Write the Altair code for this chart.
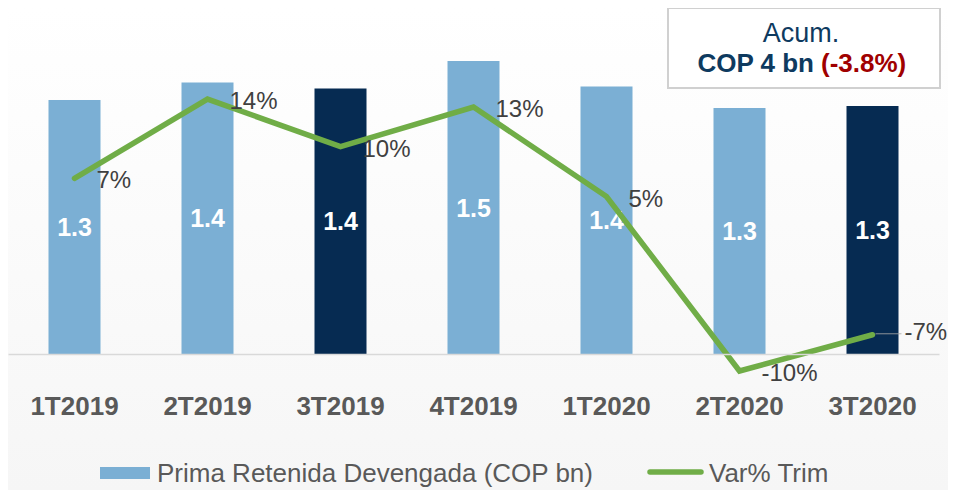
import altair as alt
import pandas as pd

categories = ["1T2019", "2T2019", "3T2019", "4T2019", "1T2020", "2T2020", "3T2020"]
prima = [1.30, 1.39, 1.36, 1.50, 1.37, 1.26, 1.27]
var_trim = [7.0, 14.0, 9.8, 13.3, 5.4, -10.0, -6.8]
tipo = ["base", "base", "cierre", "base", "base", "base", "cierre"]

legend_bar = "Prima Retenida Devengada (COP bn)"
legend_line = "Var% Trim"
box_title = "Acum."
box_value = "COP 4 bn"
box_change = "(-3.8%)"

FONT = "Liberation Sans"
LIGHT = "#7BAFD4"
DARK = "#062B52"
GREEN = "#70AD47"
NAVY = "#0E3A5F"
RED = "#A00000"

df = pd.DataFrame({"cat": categories, "prima": prima, "var": var_trim, "tipo": tipo})
one = pd.DataFrame({"k": [0]})

W, H = 931, 346

xenc = alt.X(
    "cat:N",
    sort=categories,
    scale=alt.Scale(paddingInner=0.609, paddingOuter=0.3045),
    axis=alt.Axis(
        title=None, labelAngle=0, ticks=False, tickSize=0, grid=False,
        domain=True, domainColor="#d9d9d9", domainWidth=1.5, zindex=1,
        labelFont=FONT, labelFontSize=26, labelFontWeight="bold",
        labelColor="#595959", labelPadding=52, labelBaseline="middle",
    ),
)
ybar = alt.Scale(domain=[0, 1.7717], nice=False, zero=False)
yline = alt.Scale(domain=[-8.5, 22.04], nice=False, zero=False)

pct_expr = "(datum.var < 0 ? '-' : '') + format(abs(datum.var), '.0f') + '%'"

base = alt.Chart(df)

bg = alt.Chart(one).mark_rect(
    fill=alt.Gradient(
        gradient="linear",
        stops=[alt.GradientStop(color="#ffffff", offset=0),
               alt.GradientStop(color="#f6f6f6", offset=1)],
        x1=0, x2=0, y1=0, y2=1,
    )
).encode(x=alt.value(0), x2=alt.value(940), y=alt.value(0), y2=alt.value(482))

bars = base.mark_bar().encode(
    x=xenc,
    y=alt.Y("prima:Q", scale=ybar, axis=None),
    color=alt.Color("tipo:N", scale=alt.Scale(domain=["base", "cierre"], range=[LIGHT, DARK]), legend=None),
)

bar_labels = base.transform_calculate(
    mid="datum.prima / 2", lab="format(datum.prima, '.1f')"
).mark_text(
    font=FONT, fontSize=25, fontWeight="bold", color="white", baseline="middle", dy=1
).encode(
    x=alt.X("cat:N", sort=categories),
    y=alt.Y("mid:Q", scale=ybar, axis=None),
    text="lab:N",
)

line = base.mark_line(color=GREEN, strokeWidth=5.5, strokeCap="round").encode(
    x=alt.X("cat:N", sort=categories),
    y=alt.Y("var:Q", scale=yline, axis=None),
)

line_labels = base.transform_filter(
    alt.datum.cat != categories[-1]
).transform_calculate(
    lab=pct_expr
).mark_text(
    font=FONT, fontSize=24, color="#404040", align="left", baseline="middle", dx=22, dy=3
).encode(
    x=alt.X("cat:N", sort=categories),
    y=alt.Y("var:Q", scale=yline, axis=None),
    text="lab:N",
)

last_label = base.transform_filter(
    alt.datum.cat == categories[-1]
).transform_calculate(
    lab=pct_expr
).mark_text(
    font=FONT, fontSize=24, color="#404040", align="left", baseline="middle", dx=32, dy=-2
).encode(
    x=alt.X("cat:N", sort=categories),
    y=alt.Y("var:Q", scale=yline, axis=None),
    text="lab:N",
)

leader = base.transform_filter(
    alt.datum.cat == categories[-1]
).mark_tick(
    orient="horizontal", size=26, thickness=1.2, color="#a6a6a6", xOffset=16, yOffset=-1
).encode(
    x=alt.X("cat:N", sort=categories),
    y=alt.Y("var:Q", scale=yline, axis=None),
)

box = alt.Chart(one).mark_rect(fill="white", stroke="#d0d0d0", strokeWidth=2).encode(
    x=alt.value(660), x2=alt.value(932), y=alt.value(0), y2=alt.value(80)
)
t1 = alt.Chart(one).mark_text(
    font=FONT, fontSize=27, color=NAVY, align="center", baseline="alphabetic", text=box_title
).encode(x=alt.value(793), y=alt.value(34))
t2 = alt.Chart(one).mark_text(
    font=FONT, fontSize=26, fontWeight="bold", color=NAVY, align="right", baseline="alphabetic", text=box_value
).encode(x=alt.value(806), y=alt.value(64))
t3 = alt.Chart(one).mark_text(
    font=FONT, fontSize=26, fontWeight="bold", color=RED, align="left", baseline="alphabetic", text=box_change
).encode(x=alt.value(813), y=alt.value(64))

lg_rect = alt.Chart(one).mark_rect(color=LIGHT).encode(
    x=alt.value(92), x2=alt.value(142), y=alt.value(459), y2=alt.value(471)
)
lg_t1 = alt.Chart(one).mark_text(
    font=FONT, fontSize=26, color="#595959", align="left", baseline="middle", text=legend_bar
).encode(x=alt.value(149), y=alt.value(466))
lg_line = alt.Chart(one).mark_rule(color=GREEN, strokeWidth=5.5, strokeCap="round").encode(
    x=alt.value(642), x2=alt.value(693), y=alt.value(464)
)
lg_t2 = alt.Chart(one).mark_text(
    font=FONT, fontSize=26, color="#595959", align="left", baseline="middle", text=legend_line
).encode(x=alt.value(701), y=alt.value(466))

chart = alt.layer(
    bg, bars, bar_labels, line, line_labels, leader, last_label,
    box, t1, t2, t3, lg_rect, lg_t1, lg_line, lg_t2
).resolve_scale(y="independent").properties(
    width=W, height=H,
    autosize=alt.AutoSizeParams(type="none"),
    padding={"left": 0, "top": 0, "right": 9, "bottom": 136},
    background="#ffffff",
).configure_view(stroke=None)

chart.save("out.html", embed_options={"renderer": "svg", "actions": False})
